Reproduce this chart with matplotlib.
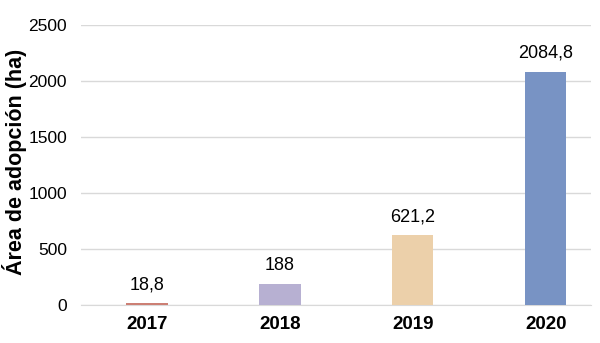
import matplotlib.pyplot as plt

plt.rcParams['font.family'] = ['Liberation Sans', 'DejaVu Sans']

years = ['2017', '2018', '2019', '2020']
area = [18.8, 188, 621.2, 2084.8]
value_labels = ['18,8', '188', '621,2', '2084,8']
colors = ['#cc7f74', '#b7b0d2', '#ecd0aa', '#7893c4']

fig = plt.figure(figsize=(6, 3.43), dpi=100)
ax = fig.add_axes([0.135, 0.111, 0.85, 0.816])

x = list(range(len(years)))
bars = ax.bar(x, area, width=0.31, color=colors, zorder=3)

# etiquetas de valor encima de cada barra
for xi, v, lab in zip(x, area, value_labels):
    ax.annotate(lab, (xi, v), xytext=(0, 7), textcoords='offset points',
                ha='center', va='bottom', fontsize=13)

ax.set_ylim(0, 2500)
ax.set_yticks([0, 500, 1000, 1500, 2000, 2500])
ax.set_xlim(-0.496, 3.34)
ax.set_xticks(x)
ax.set_xticklabels(years, fontweight='bold', fontsize=13.5)
ax.tick_params(axis='x', length=0, pad=8)
ax.tick_params(axis='y', length=0, pad=10, labelsize=12.5)

ax.grid(axis='y', color='#d9d9d9', linewidth=1, zorder=0)
for s in ['top', 'right', 'left']:
    ax.spines[s].set_visible(False)
ax.spines['bottom'].set_color('#d9d9d9')

ax.set_ylabel('Área de adopción (ha)', fontweight='bold', fontsize=15.5, va='center')
ax.yaxis.set_label_coords(-0.13, 0.51)

plt.savefig('out.png', dpi=100)
